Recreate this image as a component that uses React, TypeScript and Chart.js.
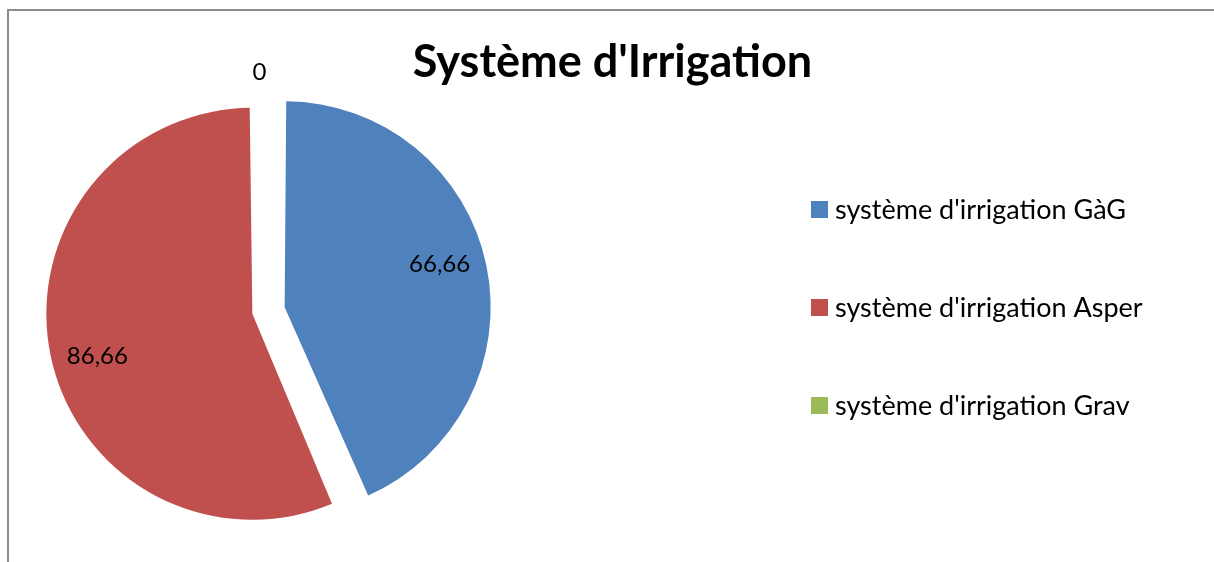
import React, { useEffect, useRef } from "react";
import { Chart, registerables } from "chart.js";

Chart.register(...registerables);

const TITLE = "Système d'Irrigation";
const categories = [
  "système d'irrigation GàG",
  "système d'irrigation Asper",
  "système d'irrigation Grav",
];
const values = [66.66, 86.66, 0];
const valueLabels = ["66,66", "86,66", "0"];
const colors = ["#4F81BD", "#C0504D", "#9BBB59"];

const CANVAS_W = 1205;
const CANVAS_H = 551;
const RADIUS = 206;
const OFFSET = 66; // Chart.js translates arcs by offset / 4
const SHIFT = OFFSET / 4;
const LABEL_ROT = -0.062; // slight counter-clockwise placement of inside labels
const FONT = "Lato, 'Open Sans', 'Liberation Sans', sans-serif";

export default function App() {
  const ref = useRef<HTMLCanvasElement>(null);

  useEffect(() => {
    const canvas = ref.current;
    if (!canvas) return;

    const custom = {
      id: "customDraw",
      beforeDatasetsDraw(chart: any) {
        const meta = chart.getDatasetMeta(0);
        meta.data.forEach((arc: any) => {
          const fix = 1 - Math.sin(Math.min(Math.PI, arc.circumference || 0));
          arc.outerRadius = RADIUS - SHIFT * fix;
        });
      },
      afterDraw(chart: any) {
        const ctx: CanvasRenderingContext2D = chart.ctx;
        ctx.save();
        // Title
        ctx.fillStyle = "#000";
        ctx.font = `bold 45px ${FONT}`;
        ctx.textAlign = "center";
        ctx.textBaseline = "alphabetic";
        ctx.fillText(TITLE, chart.width / 2 + 1, 66);

        // Data labels
        const meta = chart.getDatasetMeta(0);
        ctx.font = `24px ${FONT}`;
        ctx.textBaseline = "middle";
        meta.data.forEach((arc: any, i: number) => {
          const mid = (arc.startAngle + arc.endAngle) / 2;
          const v = chart.data.datasets[0].data[i];
          if (v > 0) {
            const sx = arc.x + Math.cos(mid) * SHIFT;
            const sy = arc.y + Math.sin(mid) * SHIFT;
            const d = RADIUS * 0.78;
            const a = mid + LABEL_ROT;
            ctx.textAlign = "center";
            ctx.fillText(valueLabels[i], sx + Math.cos(a) * d, sy + Math.sin(a) * d);
          } else {
            const d = RADIUS + 32;
            ctx.textAlign = "right";
            ctx.fillText(valueLabels[i], arc.x + Math.cos(mid) * d - 2, arc.y + Math.sin(mid) * d);
          }
        });

        // Legend
        const labels: string[] = chart.data.labels;
        const bg: string[] = chart.data.datasets[0].backgroundColor;
        ctx.font = `27px ${FONT}`;
        ctx.textAlign = "left";
        ctx.textBaseline = "middle";
        labels.forEach((lab, i) => {
          const y = 190 + i * 98;
          ctx.fillStyle = bg[i];
          ctx.fillRect(802, y, 17, 17);
          ctx.fillStyle = "#000";
          ctx.fillText(lab, 826, y + 9);
        });
        ctx.restore();
      },
    };

    const chart = new Chart(canvas, {
      type: "pie",
      data: {
        labels: categories,
        datasets: [
          {
            data: values,
            backgroundColor: colors,
            borderWidth: 0,
            offset: OFFSET,
            radius: RADIUS,
          } as any,
        ],
      },
      options: {
        responsive: false,
        animation: false,
        layout: {
          padding: { left: 44.5, top: 84.5, right: 730.5, bottom: 36.5 },
        },
        plugins: {
          legend: { display: false },
          title: { display: false },
          tooltip: { enabled: false },
        },
        events: [],
      } as any,
      plugins: [custom],
    });

    return () => chart.destroy();
  }, []);

  return (
    <div
      style={{
        position: "fixed",
        left: 7,
        top: 9,
        width: CANVAS_W + 20,
        height: CANVAS_H + 20,
        overflow: "hidden",
        borderLeft: "2px solid #8c8c8c",
        borderTop: "2px solid #8c8c8c",
        background: "#fff",
      }}
    >
      <canvas
        ref={ref}
        width={CANVAS_W}
        height={CANVAS_H}
        style={{ display: "block", width: CANVAS_W, height: CANVAS_H }}
      />
    </div>
  );
}
